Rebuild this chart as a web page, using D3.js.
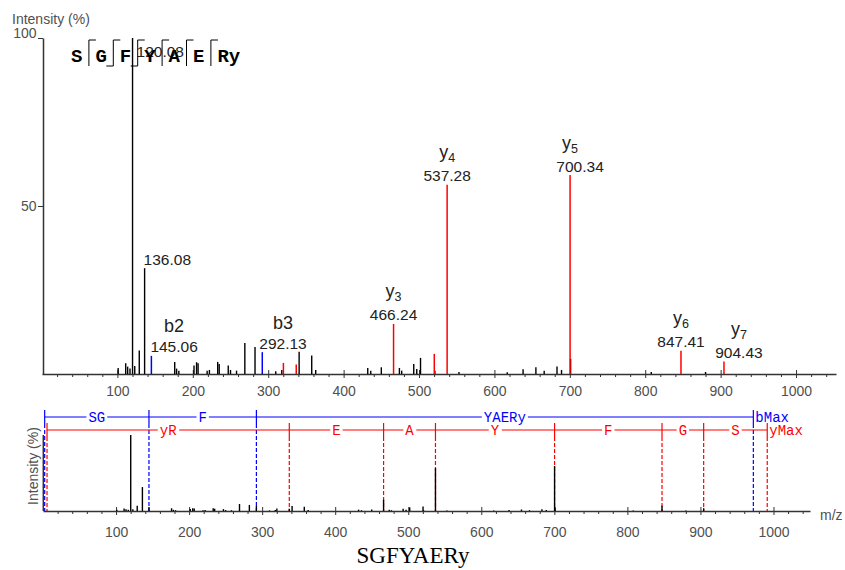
<!DOCTYPE html>
<html>
<head>
<meta charset="utf-8">
<script src="https://cdn.jsdelivr.net/npm/d3@7"></script>
<style>
  body { margin: 0; background: #fff; }
  svg { display: block; font-family: "Liberation Sans", Arial, sans-serif; }
</style>
</head>
<body>
<svg id="chart" width="845" height="570"></svg>
<script>
// ---- peptide ---------------------------------------------------------
const residues = ["S", "G", "F", "Y", "A", "E", "R", "y"];
const bObserved = [2, 3];             // b-ion cleavages seen
const yObserved = [2, 3, 4, 5, 6, 7]; // y-ion cleavages seen
const peptideTitle = "SGFYAERy";

// ---- unassigned peaks: m/z and relative intensity (%) ----------------
const peakMz = [101, 111, 113.6, 116.7, 120.08, 123, 129, 136.08, 176, 178.5, 181.5,
  201.6, 205, 207, 219, 222, 233, 235, 247, 250, 258, 269, 282.5, 310, 318,
  341, 357.7, 363, 432, 436, 450, 474, 477, 493, 497, 502, 521, 553, 617,
  638, 655, 666, 683, 689, 701, 808, 880];
const peakInt = [1.8, 3.2, 2.2, 1.6, 100, 2.4, 7.0, 31.5, 3.6, 1.6, 1.0,
  2.5, 3.5, 3.2, 1.0, 1.2, 3.6, 3.0, 2.5, 1.2, 1.0, 9.2, 8.0, 0.8, 1.2,
  6.6, 5.5, 1.2, 1.8, 1.0, 2.0, 1.8, 1.0, 3.0, 1.5, 4.8, 1.0, 0.6, 0.5,
  1.4, 2.0, 1.0, 2.2, 1.2, 4.5, 0.6, 0.6];
const labelledPeaks = [120.08, 136.08];

// ---- assigned fragment ions -----------------------------------------
const ionType = ["b", "b", "y", "y", "y", "y", "y", "y", "y", "y"];
const ionName = ["b2", "b3", "y3", "y4", "y5", "y6", "y7", "", "", ""];
const ionMz   = [145.06, 292.13, 466.24, 537.28, 700.34, 847.41, 904.43, 320.14, 337.17, 520.25];
const ionInt  = [5.4, 6.5, 14.9, 56.3, 59.2, 6.9, 3.7, 3.3, 2.8, 6.0];

// ---- fragment ladders ------------------------------------------------
const bLadderMz   = [2.3, 145.06, 292.13, 972.44];
const bLadderText = ["SG", "F", "YAERy"];
const yLadderMz   = [5.5, 337.17, 466.24, 537.28, 700.34, 847.41, 904.43, 991.46];
const yLadderText = ["yR", "E", "A", "Y", "F", "G", "S"];

// ---- axes ------------------------------------------------------------
const xTicks = [100, 200, 300, 400, 500, 600, 700, 800, 900, 1000];
const yTicks = [50, 100];

// ======================================================================
const svg = d3.select("#chart");
const BLUE = "#0000ff", RED = "#ff0000", AXIS = "#333", TXT = "#505050";
const fmt = d3.format(".2f");

const xTop = d3.scaleLinear().domain([0, 1053]).range([42, 836]);
const yTop = d3.scaleLinear().domain([0, 100]).range([374, 38]);
const xBot = d3.scaleLinear().domain([0, 1050]).range([43, 810]);
const yBot = d3.scaleLinear().domain([0, 100]).range([511, 435]);

const minorTicks = d3.range(20, 1050, 20).filter(v => v % 100 !== 0);

function styleAxis(g) {
  g.select(".domain").attr("stroke", AXIS).attr("stroke-width", 1.5);
  g.selectAll(".tick line").attr("stroke", AXIS).attr("stroke-width", 1);
  g.selectAll(".tick text").attr("fill", TXT).attr("font-size", 14)
    .attr("font-family", "'Liberation Sans', Arial, sans-serif");
}

function xAxis(x, y0, pad) {
  const g = svg.append("g").attr("transform", `translate(0,${y0})`);
  g.append("g").call(d3.axisBottom(x).tickValues(minorTicks).tickSize(3)
    .tickSizeOuter(0).tickFormat(""))
    .call(s => s.select(".domain").remove())
    .call(s => s.selectAll("line").attr("stroke", AXIS));
  const m = g.append("g").call(d3.axisBottom(x).tickValues(xTicks).tickSize(4)
    .tickSizeOuter(0).tickPadding(pad).tickFormat(d3.format("d")));
  styleAxis(m);
  m.selectAll(".tick line").attr("y1", -4);
  return g;
}

// ---- top panel -------------------------------------------------------
xAxis(xTop, yTop(0), 8.5);

const gy = svg.append("g").attr("transform", `translate(${xTop(0) + 1},0)`)
  .call(d3.axisLeft(yTop).tickValues(yTicks).tickSize(5).tickSizeOuter(0).tickPadding(1.5));
styleAxis(gy);
gy.selectAll(".tick text").filter(d => d === 100).attr("dy", "-0.05em");

svg.append("text").attr("x", 12).attr("y", 24).attr("font-size", 14)
  .attr("fill", TXT).text("Intensity (%)");

// unassigned peaks
svg.append("g").selectAll("line").data(d3.zip(peakMz, peakInt)).join("line")
  .attr("x1", d => xTop(d[0])).attr("x2", d => xTop(d[0]))
  .attr("y1", yTop(0)).attr("y2", d => yTop(d[1]))
  .attr("stroke", "#000").attr("stroke-width", 1.4);

// assigned ions
const ions = ionMz.map((mz, i) => ({ mz, v: ionInt[i], type: ionType[i], name: ionName[i] }));
svg.append("g").selectAll("line").data(ions).join("line")
  .attr("x1", d => xTop(d.mz)).attr("x2", d => xTop(d.mz))
  .attr("y1", yTop(0)).attr("y2", d => yTop(d.v))
  .attr("stroke", d => d.type === "b" ? BLUE : RED).attr("stroke-width", 1.5);

// label placement for crowded peaks
const labelPlace = new Map([
  [120.08, { anchor: "start", dx: 4 }],
  [136.08, { anchor: "start", dx: -1 }],
  [145.06, { anchor: "start", dx: -1 }],
  [292.13, { anchor: "start", dx: -3 }],
  [700.34, { anchor: "middle", dx: 10, nameDx: -10 }],
  [904.43, { anchor: "middle", dx: 15 }]
]);

const labelData = [
  ...labelledPeaks.map(mz => ({ mz, v: peakInt[peakMz.indexOf(mz)], name: "", type: "" })),
  ...ions.filter(d => d.name)
];
const gLab = svg.append("g").attr("fill", "#222");
labelData.forEach(d => {
  const p = labelPlace.get(d.mz) || { anchor: "middle", dx: 0 };
  const base = Math.max(yTop(d.v) - 3.5, 57);
  const t = gLab.append("text").attr("x", xTop(d.mz) + p.dx).attr("y", base)
    .attr("text-anchor", p.anchor).attr("font-size", 15.5).text(fmt(d.mz));
  if (!d.name) return;
  const w = t.node().getComputedTextLength();
  const cx = p.anchor === "start" ? xTop(d.mz) + p.dx + w / 2 : xTop(d.mz) + p.dx;
  const n = gLab.append("text").attr("x", cx + (p.nameDx || 0))
    .attr("text-anchor", "middle").attr("font-size", 18);
  if (d.type === "y") {
    n.attr("y", base - 23);
    n.append("tspan").text(d.name[0]);
    n.append("tspan").attr("font-size", 12.5).attr("dy", 4).text(d.name.slice(1));
  } else {
    n.attr("y", base - 20).text(d.name);
  }
});

// sequence with cleavage marks
const seqG = svg.append("g");
const charW = 11.4, gapW = 13, seqTop = 40, seqBot = 66;
let cx0 = 71;
residues.forEach((r, i) => {
  if (i > 0) {
    const hasB = bObserved.includes(i), hasY = yObserved.includes(residues.length - i);
    if (hasB || hasY) {
      const bx = cx0 + gapW - 6.5;
      seqG.append("line").attr("x1", bx).attr("x2", bx).attr("y1", seqTop).attr("y2", seqBot)
        .attr("stroke", "#000").attr("stroke-width", 1);
      if (hasY) seqG.append("line").attr("x1", bx).attr("x2", bx + 7)
        .attr("y1", seqTop).attr("y2", seqTop).attr("stroke", "#000");
      if (hasB) seqG.append("line").attr("x1", bx - 7).attr("x2", bx)
        .attr("y1", seqBot).attr("y2", seqBot).attr("stroke", "#000");
      cx0 += gapW;
    }
  }
  seqG.append("text").attr("x", cx0).attr("y", 61.5)
    .attr("font-family", "'Liberation Mono', 'Courier New', monospace")
    .attr("font-weight", "bold").attr("font-size", 19).attr("fill", "#000").text(r);
  cx0 += charW;
});

// ---- bottom panel ----------------------------------------------------
function ladder(mzs, texts, yLine, color, endLabel, tickTop, tickBot) {
  const g = svg.append("g");
  const xs = mzs.map(m => xBot(m));
  g.append("line").attr("x1", xs[0]).attr("x2", xs[xs.length - 1])
    .attr("y1", yLine).attr("y2", yLine).attr("stroke", color).attr("stroke-width", 1.2);
  xs.forEach(x => {
    g.append("line").attr("x1", x).attr("x2", x).attr("y1", tickTop).attr("y2", tickBot)
      .attr("stroke", color).attr("stroke-width", 1.2);
    g.append("line").attr("x1", x).attr("x2", x).attr("y1", tickBot).attr("y2", yBot(0))
      .attr("stroke", color).attr("stroke-width", 1.2).attr("stroke-dasharray", "4,2");
  });
  const mono = "'Liberation Mono', 'Courier New', monospace";
  texts.forEach((t, i) => {
    const tx = g.append("text").attr("x", (xs[i] + xs[i + 1]) / 2).attr("y", yLine + 4.5)
      .attr("text-anchor", "middle").attr("font-family", mono).attr("font-size", 14)
      .attr("fill", color).text(t);
    const bb = tx.node().getBBox();
    g.insert("rect", () => tx.node()).attr("x", bb.x - 2).attr("y", yLine - 2)
      .attr("width", bb.width + 4).attr("height", 4).attr("fill", "#fff");
  });
  g.append("text").attr("x", xs[xs.length - 1] + 2).attr("y", yLine + 4.5)
    .attr("font-family", mono).attr("font-size", 14).attr("fill", color).text(endLabel);
}
ladder(bLadderMz, bLadderText, 417, BLUE, "bMax", 410, 424);
ladder(yLadderMz, yLadderText, 430, RED, "yMax", 423, 437);

xAxis(xBot, yBot(0), 12);
svg.append("line").attr("x1", xBot(0) + 0.3).attr("x2", xBot(0) + 0.3)
  .attr("y1", yBot(100)).attr("y2", yBot(0)).attr("stroke", AXIS).attr("stroke-width", 1.5);
svg.append("text").attr("transform", `translate(38,${(yBot(0) + yBot(100)) / 2 - 7}) rotate(-90)`)
  .attr("text-anchor", "middle").attr("font-size", 14).attr("fill", TXT).text("Intensity (%)");
svg.append("text").attr("x", 820).attr("y", 520).attr("font-size", 14).attr("fill", TXT).text("m/z");

const allPeaks = d3.zip(peakMz, peakInt).concat(ions.map(d => [d.mz, d.v]));
svg.append("g").selectAll("line").data(allPeaks).join("line")
  .attr("x1", d => xBot(d[0])).attr("x2", d => xBot(d[0]))
  .attr("y1", yBot(0)).attr("y2", d => yBot(d[1]))
  .attr("stroke", "#000").attr("stroke-width", 1.4);

// title
svg.append("text").attr("x", 413).attr("y", 563).attr("text-anchor", "middle")
  .attr("font-family", "'Liberation Serif', 'Times New Roman', serif")
  .attr("font-size", 23).attr("fill", "#000").text(peptideTitle);
</script>
</body>
</html>
